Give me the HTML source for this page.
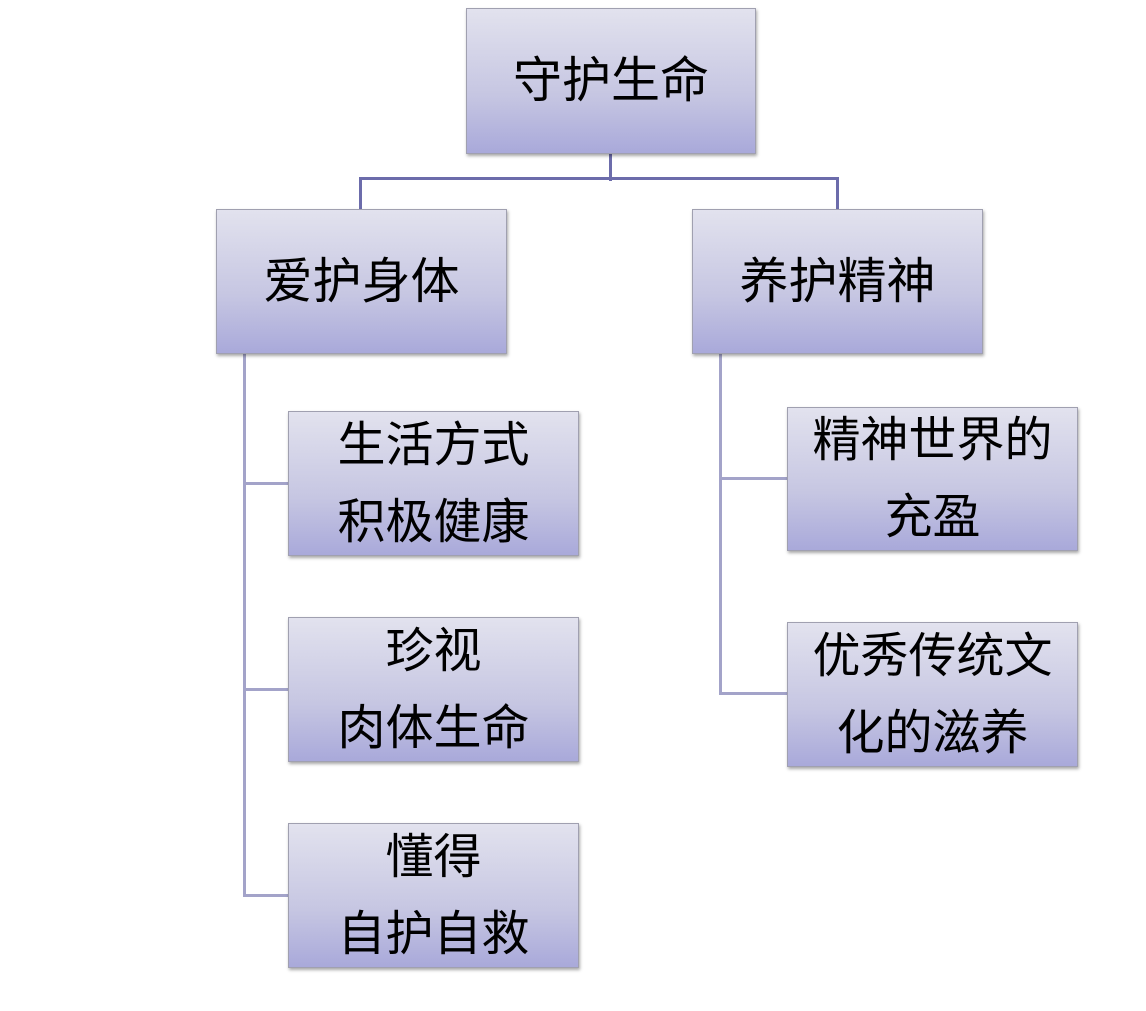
<!DOCTYPE html>
<html><head><meta charset="utf-8"><style>
body{margin:0;width:1146px;height:1011px;background:#fff;position:relative;overflow:hidden;font-family:"Liberation Sans","Noto Sans CJK SC",sans-serif;}
.b{position:absolute;box-sizing:border-box;border:1px solid #a0a0b0;background:linear-gradient(#e2e2ee,#c6c6e2 60%,#a9a9da);box-shadow:1px 2px 3px rgba(0,0,0,0.35);display:flex;align-items:center;justify-content:center;text-align:center;color:#000;font-size:49px;line-height:78px;white-space:nowrap;}
.s{font-size:48px;line-height:77px;}
.l{position:absolute;background:#a3a3c9;}
.d{position:absolute;background:#6c6cab;}
</style></head><body>
<div class="d" style="left:609px;top:154px;width:3px;height:27px"></div>
<div class="d" style="left:359px;top:177px;width:480px;height:3px"></div>
<div class="d" style="left:359px;top:177px;width:3px;height:33px"></div>
<div class="d" style="left:836px;top:177px;width:3px;height:33px"></div>
<div class="l" style="left:243px;top:354px;width:3px;height:543px"></div>
<div class="l" style="left:243px;top:482px;width:46px;height:3px"></div>
<div class="l" style="left:243px;top:688px;width:46px;height:3px"></div>
<div class="l" style="left:243px;top:894px;width:46px;height:3px"></div>
<div class="l" style="left:719px;top:354px;width:3px;height:341px"></div>
<div class="l" style="left:719px;top:477px;width:69px;height:3px"></div>
<div class="l" style="left:719px;top:692px;width:69px;height:3px"></div>
<div class="b" style="left:466px;top:8px;width:290px;height:146px">守护生命</div>
<div class="b" style="left:216px;top:209px;width:291px;height:145px">爱护身体</div>
<div class="b" style="left:692px;top:209px;width:291px;height:145px">养护精神</div>
<div class="b s" style="left:288px;top:411px;width:291px;height:145px">生活方式<br>积极健康</div>
<div class="b s" style="left:288px;top:617px;width:291px;height:145px">珍视<br>肉体生命</div>
<div class="b s" style="left:288px;top:823px;width:291px;height:145px">懂得<br>自护自救</div>
<div class="b s" style="left:787px;top:407px;width:291px;height:144px">精神世界的<br>充盈</div>
<div class="b s" style="left:787px;top:622px;width:291px;height:145px">优秀传统文<br>化的滋养</div>
</body></html>
